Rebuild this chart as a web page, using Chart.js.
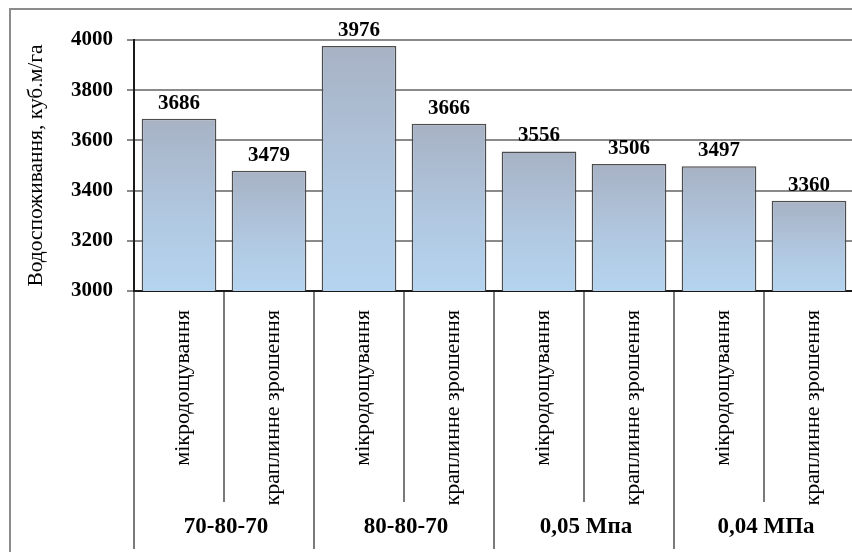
<!DOCTYPE html>
<html>
<head>
<meta charset="utf-8">
<script src="https://cdn.jsdelivr.net/npm/chart.js@4.4.1/dist/chart.umd.min.js"></script>
<style>
  html, body { margin: 0; padding: 0; background: #fff; overflow: hidden; }
  #wrap { position: relative; width: 856px; height: 552px; }
</style>
</head>
<body>
<div id="wrap"><canvas id="waterChart"></canvas></div>
<script>
// дані
const categories = ['мікродощування', 'краплинне зрошення', 'мікродощування', 'краплинне зрошення',
                    'мікродощування', 'краплинне зрошення', 'мікродощування', 'краплинне зрошення'];
const groups = ['70-80-70', '80-80-70', '0,05 Мпа', '0,04 МПа'];
const waterUse = [3686, 3479, 3976, 3666, 3556, 3506, 3497, 3360];
const yMin = 3000, yMax = 4000, yStep = 200;

const serif = '"Liberation Serif", "Times New Roman", serif';

// градієнт для кожного стовпчика окремо
function barGradient(context) {
    const chart = context.chart;
    const area = chart.chartArea;
    if (!area || context.type !== 'data') return '#b0c4dc';
    const y = chart.scales.y;
    const top = y.getPixelForValue(context.raw);
    const bottom = y.getPixelForValue(yMin);
    const g = chart.ctx.createLinearGradient(0, top, 0, bottom);
    g.addColorStop(0, '#a7b2c4');
    g.addColorStop(0.6, '#b1c9e2');
    g.addColorStop(1, '#b5d4ef');
    return g;
}

// підписи значень над стовпчиками
const valueLabels = {
    id: 'valueLabels',
    afterDatasetsDraw(chart) {
        const ctx = chart.ctx;
        const meta = chart.getDatasetMeta(0);
        ctx.save();
        ctx.font = 'bold 21px ' + serif;
        ctx.fillStyle = '#000';
        ctx.textAlign = 'center';
        ctx.textBaseline = 'alphabetic';
        meta.data.forEach(function(bar, i) {
            ctx.fillText(waterUse[i], bar.x, bar.y - 10);
        });
        ctx.restore();
    }
};

// рамка, групи та довгі роздільники під віссю
const groupAxis = {
    id: 'groupAxis',
    afterDraw(chart) {
        const ctx = chart.ctx;
        const x = chart.scales.x;
        const step = x.width / categories.length;
        ctx.save();
        ctx.strokeStyle = '#8c8c8c';
        ctx.lineWidth = 2;
        ctx.beginPath();
        ctx.moveTo(10, 552);
        ctx.lineTo(10, 9);
        ctx.lineTo(chart.width, 9);
        ctx.stroke();

        ctx.strokeStyle = '#7a7a7a';
        ctx.beginPath();
        for (let g = 0; g <= groups.length; g++) {
            const px = x.left + g * 2 * step;
            ctx.moveTo(px, 500);
            ctx.lineTo(px, 549);
        }
        ctx.stroke();

        ctx.font = 'bold 23px ' + serif;
        ctx.fillStyle = '#000';
        ctx.textAlign = 'center';
        ctx.textBaseline = 'middle';
        groups.forEach(function(name, g) {
            const cx = (x.getPixelForValue(2 * g) + x.getPixelForValue(2 * g + 1)) / 2;
            ctx.fillText(name, cx + 2, 527);
        });
        ctx.restore();
    }
};

const ctx = document.getElementById('waterChart').getContext('2d');
const chart = new Chart(ctx, {
    type: 'bar',
    data: {
        labels: categories,
        datasets: [{
            data: waterUse,
            backgroundColor: barGradient,
            borderColor: '#4d4d4d',
            borderWidth: 1.5,
            borderSkipped: false,
            categoryPercentage: 1,
            barPercentage: 0.83
        }]
    },
    options: {
        responsive: true,
        maintainAspectRatio: false,
        animation: false,
        events: [],
        layout: { padding: { top: 40, right: 2, bottom: 0, left: 0 } },
        plugins: {
            legend: { display: false },
            tooltip: { enabled: false }
        },
        scales: {
            x: {
                offset: true,
                afterFit: function(scale) { scale.height = 261; },
                border: { color: '#1a1a1a', width: 2 },
                grid: {
                    offset: true,
                    drawOnChartArea: false,
                    color: '#7a7a7a',
                    lineWidth: 2,
                    tickLength: 211
                },
                ticks: {
                    autoSkip: false,
                    minRotation: 90,
                    maxRotation: 90,
                    padding: -192,
                    labelOffset: 4,
                    color: '#000',
                    font: { family: serif, size: 22 }
                }
            },
            y: {
                min: yMin,
                max: yMax,
                afterFit: function(scale) { scale.width = 134; },
                border: { color: '#1a1a1a', width: 2 },
                grid: { color: '#8a8a8a', lineWidth: 2, tickLength: 7 },
                ticks: {
                    stepSize: yStep,
                    padding: 14,
                    color: '#000',
                    font: { family: serif, size: 21, weight: 'bold' },
                    callback: function(value) { return String(value); }
                },
                title: {
                    display: true,
                    text: 'Водоспоживання, куб.м/га',
                    color: '#000',
                    padding: { top: 23, bottom: 0 },
                    font: { family: serif, size: 21.5 }
                }
            }
        }
    },
    plugins: [valueLabels, groupAxis]
});
</script>
</body>
</html>
